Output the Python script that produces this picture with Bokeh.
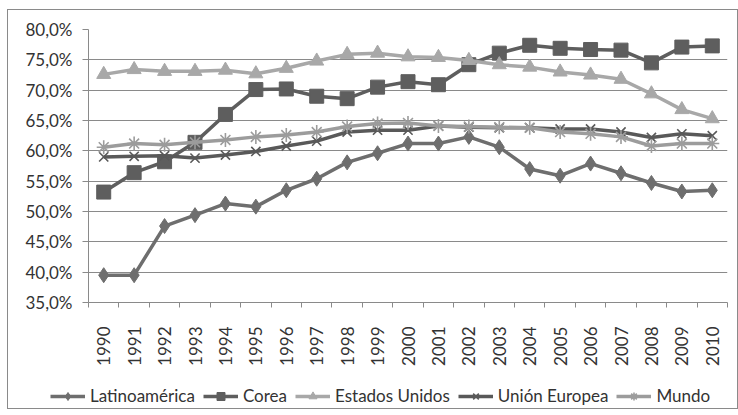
import math
from bokeh.plotting import figure
from bokeh.layouts import column
from bokeh.models import FixedTicker, Legend, LegendItem, Range1d
from bokeh.embed import file_html
from bokeh.resources import INLINE

years = [str(y) for y in range(1990, 2011)]
latam = [39.5, 39.5, 47.6, 49.4, 51.3, 50.8, 53.5, 55.4, 58.1, 59.6, 61.2, 61.2, 62.3, 60.6, 57.0, 55.9, 57.9, 56.3, 54.7, 53.3, 53.5]
corea = [53.2, 56.4, 58.2, 61.4, 66.0, 70.1, 70.2, 69.0, 68.6, 70.5, 71.4, 70.9, 74.2, 76.1, 77.4, 76.9, 76.7, 76.6, 74.5, 77.1, 77.3]
eeuu = [72.6, 73.4, 73.1, 73.1, 73.3, 72.7, 73.6, 74.8, 75.9, 76.1, 75.5, 75.4, 74.9, 74.2, 73.8, 73.0, 72.5, 71.8, 69.4, 66.8, 65.3]
ue = [59.0, 59.1, 59.2, 58.8, 59.3, 59.9, 60.8, 61.6, 63.1, 63.4, 63.4, 64.1, 63.9, 63.8, 63.8, 63.6, 63.6, 63.1, 62.2, 62.8, 62.5]
mundo = [60.6, 61.2, 61.0, 61.4, 61.8, 62.3, 62.6, 63.1, 64.0, 64.5, 64.6, 64.1, 64.0, 63.9, 63.8, 63.1, 62.8, 62.3, 60.8, 61.2, 61.2]
y_ticks = [35, 40, 45, 50, 55, 60, 65, 70, 75, 80]

series = [
    ("Latinoamérica", latam, "#6e6e6e", "diamond", 15),
    ("Corea", corea, "#5e5e5e", "square", 14),
    ("Estados Unidos", eeuu, "#a8a8a8", "triangle", 14),
    ("Unión Europea", ue, "#595959", "x", 13),
    ("Mundo", mundo, "#9c9c9c", "asterisk", 14),
]

xs = [i + 0.5 for i in range(len(years))]

p = figure(width=729, height=370, output_backend="svg", toolbar_location=None,
           x_range=Range1d(0, len(years)), y_range=Range1d(35, 80),
           min_border_left=80, min_border_right=10, min_border_top=19, min_border_bottom=78)
p.frame_align = False
p.outline_line_color = None
p.background_fill_color = "white"
p.border_fill_color = "white"

font = "Lato"
p.yaxis.ticker = FixedTicker(ticks=y_ticks)
p.yaxis.major_label_overrides = {t: f"{t},0%" for t in y_ticks}
p.yaxis.major_label_text_font = font
p.yaxis.major_label_text_font_size = "17px"
p.yaxis.major_label_text_color = "#333333"
p.yaxis.axis_line_color = "#8a8a8a"
p.yaxis.major_tick_line_color = "#8a8a8a"
p.yaxis.major_tick_out = 6
p.yaxis.major_tick_in = 0
p.yaxis.minor_tick_line_color = None
p.yaxis.major_label_standoff = 10

p.xaxis.ticker = FixedTicker(ticks=xs, minor_ticks=list(range(len(years) + 1)))
p.xaxis.major_label_overrides = {x: y for x, y in zip(xs, years)}
p.xaxis.major_label_orientation = math.pi / 2
p.xaxis.major_label_text_font = font
p.xaxis.major_label_text_font_size = "17px"
p.xaxis.major_label_text_color = "#333333"
p.xaxis.major_tick_line_color = None
p.xaxis.major_tick_out = 0
p.xaxis.major_tick_in = 0
p.xaxis.minor_tick_line_color = "#8a8a8a"
p.xaxis.minor_tick_out = 5
p.xaxis.minor_tick_in = 0
p.xaxis.axis_line_color = "#8a8a8a"
p.xaxis.major_label_standoff = 19

p.xgrid.grid_line_color = None
p.ygrid.ticker = FixedTicker(ticks=y_ticks)
p.ygrid.grid_line_color = "#8a8a8a"
p.ygrid.grid_line_width = 1

# legend strip (separate figure so the legend is not clipped by the chart frame)
pl = figure(width=729, height=28, output_backend="svg", toolbar_location=None,
            x_range=Range1d(0, 1), y_range=Range1d(0, 1),
            min_border_left=0, min_border_right=0, min_border_top=0, min_border_bottom=0)
pl.frame_align = False
pl.axis.visible = False
pl.grid.grid_line_color = None
pl.outline_line_color = None
pl.border_fill_color = "white"

items = []
for name, vals, color, marker, size in series:
    p.line(xs, vals, line_color=color, line_width=3.5)
    kw = dict(marker=marker, size=size, fill_color=color, line_color=color)
    if marker in ("x", "asterisk"):
        kw["line_width"] = 1.6
    p.scatter(xs, vals, **kw)
    # legend proxies, drawn out of view in the legend strip
    l1 = pl.line(xs, vals, line_color=color, line_width=3.5)
    l2 = pl.scatter(xs, vals, **kw)
    items.append(LegendItem(label=name, renderers=[l1, l2]))

legend = Legend(items=items, orientation="horizontal", location=(42, 2),
                label_text_font=font, label_text_font_size="17px", label_text_color="#333333",
                border_line_color=None, background_fill_alpha=0, glyph_width=35,
                spacing=8, label_standoff=5, padding=0, margin=0)
pl.add_layout(legend, "center")

layout = column(p, pl, spacing=0,
                styles={"border": "1px solid #8a8a8a", "margin-left": "7px", "margin-top": "9px"})

open("out.html", "w").write(file_html(layout, INLINE))
